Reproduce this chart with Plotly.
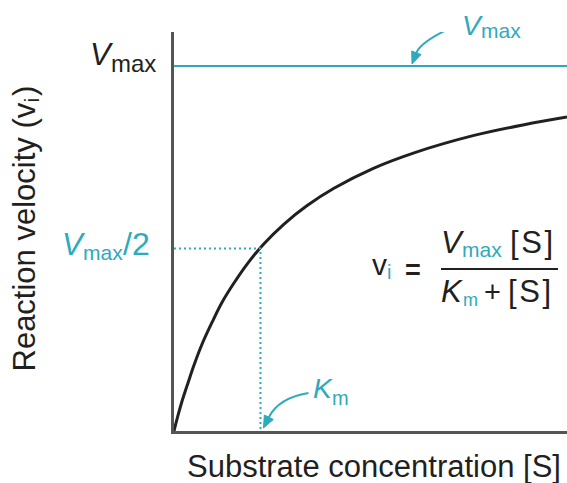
import math
import plotly.graph_objects as go

# Saturation curve: initial velocity vs. substrate concentration (arbitrary units)
substrate = [0, 0.10, 0.20, 0.36, 0.51, 0.71, 0.97, 1.22, 1.53, 1.88, 2.29,
             2.80, 3.38, 4.07, 5.06, 6.11, 7.61, 8.91, 10.0]
velocity = [0, 0.042, 0.080, 0.133, 0.181, 0.237, 0.298, 0.352, 0.406, 0.460,
            0.513, 0.567, 0.617, 0.665, 0.719, 0.762, 0.809, 0.839, 0.860]

VMAX = 1.0
KM = 2.2
X_MAX = 10.0
Y_MAX = 1.093

CYAN = "#2eaabd"
INK = "#231f20"
AXIS = "#555555"
FONT = "Liberation Sans, Arial, sans-serif"

W, H = 567, 483
L, R, T, B = 174, 0, 32, 52
PW, PH = W - L - R, H - T - B


def to_px(x, y):
    return L + x / X_MAX * PW, T + PH - y / Y_MAX * PH


def to_data(px, py):
    return (px - L) / PW * X_MAX, (T + PH - py) / PH * Y_MAX


def paper(px, py):
    return (px - L) / PW, (T + PH - py) / PH


fig = go.Figure()

# Michaelis–Menten curve
fig.add_trace(go.Scatter(
    x=substrate, y=velocity, mode="lines",
    line=dict(color=INK, width=3, shape="spline", smoothing=1.0),
    hoverinfo="skip", showlegend=False))

# Vmax asymptote
fig.add_trace(go.Scatter(
    x=[0, X_MAX], y=[VMAX, VMAX], mode="lines",
    line=dict(color=CYAN, width=2), hoverinfo="skip", showlegend=False))

# Vmax/2 and Km guides
fig.add_trace(go.Scatter(
    x=[0, KM, KM], y=[VMAX / 2, VMAX / 2, 0], mode="lines",
    line=dict(color=CYAN, width=2, dash="2px,3px"),
    hoverinfo="skip", showlegend=False))


def pts_path(points, close=False):
    d = [to_data(*p) for p in points]
    s = "M " + " L ".join(f"{x},{y}" for x, y in d)
    return s + (" Z" if close else "")


def curved_arrow(tail, ctrl, tip, head=12, half=5):
    """Quadratic pointer given in pixel positions, finished with a filled head."""
    ddx, ddy = ctrl[0] - tip[0], ctrl[1] - tip[1]
    n = math.hypot(ddx, ddy)
    ux, uy = ddx / n, ddy / n
    bx, by = tip[0] + ux * head, tip[1] + uy * head
    (x0, y0), (cx, cy), (x1, y1) = [to_data(*p) for p in (tail, ctrl, (bx, by))]
    fig.add_shape(type="path", xref="x", yref="y",
                  path=f"M {x0},{y0} Q {cx},{cy} {x1},{y1}",
                  line=dict(color=CYAN, width=2))
    tri = [tip, (bx - uy * half, by + ux * half), (bx + uy * half, by - ux * half)]
    fig.add_shape(type="path", xref="x", yref="y", path=pts_path(tri, True),
                  fillcolor=CYAN, line=dict(color=CYAN, width=1))


km_px, _ = to_px(KM, 0)
_, vmax_py = to_px(0, VMAX)
_, half_py = to_px(0, VMAX / 2)
base_py = T + PH

curved_arrow((457, 25), (421, 41), (412, vmax_py - 2))
curved_arrow((km_px + 48, base_py - 38), (km_px + 18, base_py - 33),
             (km_px + 3, base_py - 3))


def piece(txt, px, baseline, size, color, italic=False, xanchor="left", bold=False):
    """Text fragment placed by its left/right edge and its baseline (pixels)."""
    xp, yp = paper(px, baseline - 0.35 * size)
    fig.add_annotation(x=xp, y=yp, xref="paper", yref="paper", text=txt,
                       showarrow=False, xanchor=xanchor, yanchor="middle",
                       borderpad=0,
                       font=dict(family=FONT, size=size, color=color,
                                 style="italic" if italic else "normal",
                                 weight="bold" if bold else "normal"))


def vrot(txt, cx, py, size, yanchor):
    """Vertical (bottom-to-top) text fragment."""
    xp, yp = paper(cx, py)
    fig.add_annotation(x=xp, y=yp, xref="paper", yref="paper", text=txt,
                       showarrow=False, xanchor="center", yanchor=yanchor,
                       textangle=-90, borderpad=0,
                       font=dict(family=FONT, size=size, color=INK))


HAIR = "\u200a"

# Axis-side labels
piece("V", 115, vmax_py - 1, 31, INK, italic=True, xanchor="right")
piece("max", 110, vmax_py + 6, 24, INK)

piece("V", 87, half_py + 7, 31, CYAN, italic=True, xanchor="right")
piece("max", 82, half_py + 11, 21, CYAN)
piece("/2", 122, half_py + 7, 32, CYAN)

piece("V", 461, 35, 28, CYAN, italic=True)
piece("max", 480, 38, 21, CYAN)

piece("K", km_px + 52, 398, 28, CYAN, italic=True)
piece("m", km_px + 71, 405, 20, CYAN)

# Rate equation  v_i = Vmax[S] / (Km + [S])
piece("v", 371, 275, 30, INK)
piece("i", 386, 279, 20, CYAN)
piece("=", 404, 279, 27, INK, bold=True)
fig.add_shape(type="line", xref="paper", yref="paper",
              x0=paper(441, 0)[0], x1=paper(558, 0)[0],
              y0=paper(0, 269)[1], y1=paper(0, 269)[1],
              line=dict(color=INK, width=2))
piece("V", 440, 253, 31, INK, italic=True)
piece("max", 461, 257, 21, CYAN)
piece(f"[{HAIR}S{HAIR}]", 509, 253, 31, INK)
piece("K", 440, 302, 31, INK, italic=True)
piece("m", 462, 306, 18, CYAN)
piece("+", 483, 302, 29, INK)
piece(f"[{HAIR}S{HAIR}]", 507, 302, 31, INK)

# Axis titles
piece("Substrate concentration [S]", 374, 477, 31, INK, xanchor="center")
vrot("Reaction velocity (v", 24, 373, 31, "bottom")
vrot("i", 31, 104, 21, "bottom")
vrot(")", 24, 97, 31, "bottom")

fig.update_xaxes(range=[0, X_MAX], showline=True, linecolor=AXIS, linewidth=2.5,
                 showgrid=False, zeroline=False, showticklabels=False, ticks="",
                 fixedrange=True)
fig.update_yaxes(range=[0, Y_MAX], showline=True, linecolor=AXIS, linewidth=2.5,
                 showgrid=False, zeroline=False, showticklabels=False, ticks="",
                 fixedrange=True)
fig.update_layout(width=W, height=H, margin=dict(l=L, r=R, t=T, b=B),
                  paper_bgcolor="white", plot_bgcolor="white",
                  font=dict(family=FONT, color=INK))

fig.write_html("out.html")
